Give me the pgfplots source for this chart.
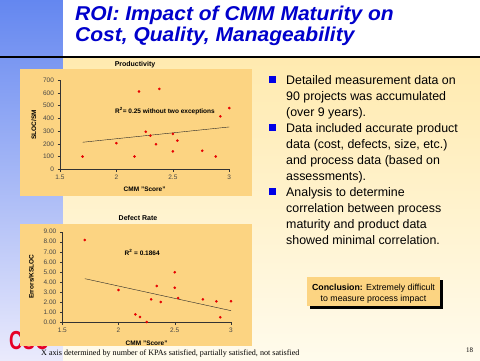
\documentclass[border=0pt]{standalone}
\usepackage{pgfplots}
\pgfplotsset{compat=1.18}
\usepackage{fontspec}
\setmainfont{Liberation Sans}
\newfontfamily\seriffont{Liberation Serif}
\definecolor{stripTop}{RGB}{100,135,240}
\definecolor{stripBot}{RGB}{234,234,252}
\definecolor{creamTop}{RGB}{255,234,175}
\definecolor{creamBot}{RGB}{255,251,236}
\definecolor{boxfill}{RGB}{252,212,130}
\definecolor{titleblue}{RGB}{0,0,204}
\definecolor{bulletblue}{RGB}{0,0,230}
\definecolor{logored}{RGB}{230,0,40}
\definecolor{markred}{RGB}{230,0,0}
\definecolor{ticklab}{RGB}{70,70,70}
\pgfplotsset{
  slide/.style={
    scale only axis,
    axis x line=bottom, axis y line=left,
    axis line style={-, thin, black!80},
    tick align=outside, major tick length=2.5pt,
    tick style={black!80, thin},
    xmin=1.5, xmax=3, xtick={1.5,2,2.5,3},
    xticklabels={1.5,2,2.5,3},
    ticklabel style={font=\fontsize{6.5}{7}\selectfont, text=ticklab},
    /pgf/number format/assume math mode=true,
    label style={font=\fontsize{6.5}{7}\selectfont\bfseries},
    clip=false,
  },
  pts/.style={only marks, mark=*, mark size=1.1pt, color=markred},
  trend/.style={no marks, thin, black!85},
}
\begin{document}
\begin{tikzpicture}[x=1pt,y=1pt]
\path[use as bounding box] (0,0) rectangle (480,360);
\shade[top color=stripTop, bottom color=stripBot] (0,0) rectangle (63,360);
\fill[white] (63,303) rectangle (480,360);
\shade[top color=creamTop, bottom color=creamBot] (63,0) rectangle (480,303);
\fill[black] (0,302) rectangle (480,304.5);
% title
\node[anchor=base west, text=titleblue, font=\fontsize{20}{22}\selectfont\bfseries\itshape, inner sep=0pt, xscale=1.05] at (75,339.3) {ROI: Impact of CMM Maturity on};
\node[anchor=base west, text=titleblue, font=\fontsize{20}{22}\selectfont\bfseries\itshape, inner sep=0pt, xscale=1.05] at (75,318.3) {Cost, Quality, Manageability};
% logo (partly hidden)
\node[anchor=base west, text=logored, font=\fontsize{26}{26}\selectfont\bfseries, inner sep=0pt, xscale=0.72] at (9,11) {CSC};
% chart panels
\fill[boxfill] (20,164) rectangle (252,291);
\fill[boxfill] (20,14) rectangle (252,136);
\node[anchor=base, font=\fontsize{7}{8}\selectfont\bfseries, inner sep=0pt] at (135,294) {Productivity};
\node[anchor=base, font=\fontsize{7}{8}\selectfont\bfseries, inner sep=0pt] at (138,140) {Defect Rate};

% Productivity axis
\begin{axis}[slide, at={(60pt,190.7pt)}, anchor=south west,
  width=169.3pt, height=89.3pt,
  ymin=0, ymax=700, ytick={0,100,...,700},
  xlabel={CMM ''Score''}, ylabel={SLOC/SM},
  xlabel style={yshift=0pt}, ylabel style={yshift=0pt}]
\addplot[pts] coordinates {
 (1.70,100) (2.00,205) (2.16,100) (2.20,610) (2.26,295) (2.30,264)
 (2.35,196) (2.38,630) (2.50,277) (2.50,140) (2.54,225) (2.76,146)
 (2.88,100) (2.92,415) (3.00,480)};
\addplot[trend] coordinates {(1.7,212) (3.0,332)};
\node[font=\fontsize{6.5}{7}\selectfont\bfseries] at (axis cs:2.43,457) {R\textsuperscript{2}= 0.25 without two exceptions};
\end{axis}

% Defect rate axis
\begin{axis}[slide, at={(62.3pt,38pt)}, anchor=south west,
  width=168.7pt, height=90.3pt,
  ymin=0, ymax=9, ytick={0,1,...,9},
  yticklabel style={/pgf/number format/.cd, fixed, fixed zerofill, precision=2},
  xlabel={CMM ''Score''}, ylabel={Errors/KSLOC},
  xlabel style={yshift=-1pt}, ylabel style={yshift=3pt}]
\addplot[pts] coordinates {
 (1.70,8.17) (2.00,3.19) (2.15,0.76) (2.19,0.50) (2.25,0.00) (2.29,2.26)
 (2.34,3.59) (2.375,1.99) (2.50,4.95) (2.50,3.42) (2.53,2.39) (2.75,2.26)
 (2.87,2.06) (2.905,0.47) (3.00,2.06)};
\addplot[trend] coordinates {(1.7,4.32) (3.0,1.13)};
\node[font=\fontsize{6.5}{7}\selectfont\bfseries] at (axis cs:2.21,6.94) {R\textsuperscript{2} = 0.1864};
\end{axis}

% bullets
\foreach \yy in {275.7,227.7,163.7} {\fill[bulletblue] (269,\yy+1.6) rectangle (276,\yy+8.6);}
\foreach \t [count=\i from 0] in {Detailed measurement data on, 90 projects was accumulated, (over 9 years)., Data included accurate product, {data (cost, defects, size, etc.)}, and process data (based on, assessments)., Analysis to determine, correlation between process, maturity and product data, showed minimal correlation.} {
  \node[anchor=base west, inner sep=0pt, font=\fontsize{12.4}{14}\selectfont] at (286,275.7-16*\i) {\t};
}
% conclusion box
\fill[black] (310,51) rectangle (443,80);
\fill[boxfill] (307,54) rectangle (440,83);
\node[anchor=base, inner sep=0pt, font=\fontsize{8.8}{10}\selectfont] at (373.5,70) {\textbf{Conclusion:} Extremely difficult};
\node[anchor=base, inner sep=0pt, font=\fontsize{8.8}{10}\selectfont] at (373.5,58.5) {to measure process impact};
% footer
\node[anchor=base west, inner sep=0pt, font=\seriffont\fontsize{8.1}{9}\selectfont] at (41,4.5) {X axis determined by number of KPAs satisfied, partially satisfied, not satisfied};
\node[anchor=base west, inner sep=0pt, font=\seriffont\fontsize{7}{8}\selectfont] at (466,8) {18};
\end{tikzpicture}
\end{document}
